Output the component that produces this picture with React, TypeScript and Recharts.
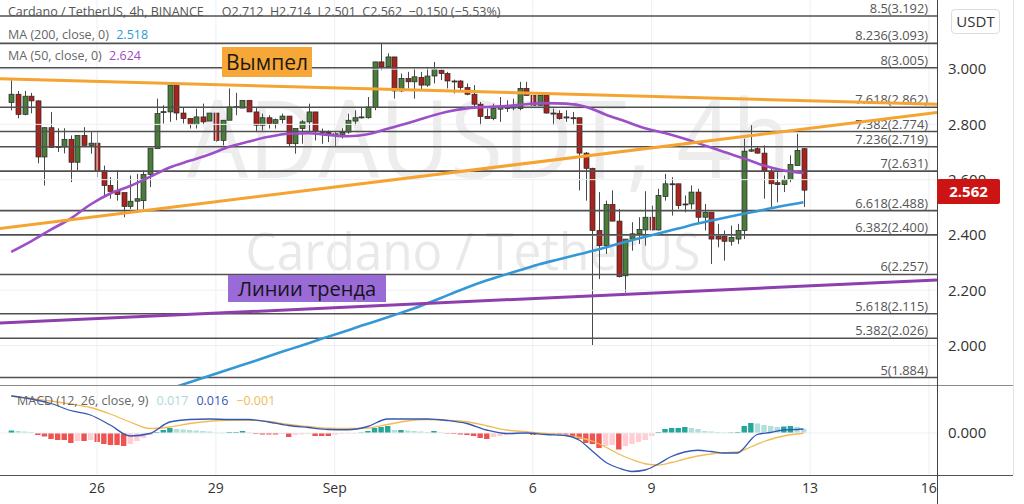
import React from 'react';
import { ComposedChart, Bar, Line, XAxis, YAxis, ReferenceLine } from 'recharts';

const FONT = '"Open Sans", "DejaVu Sans", sans-serif';

// 4h candles; index 0 = Aug 24 00:00, one unit = one candle
const FIRST_INDEX = -1;
const opens = [2.879, 2.909, 2.836, 2.902, 2.885, 2.682, 2.788, 2.720, 2.718, 2.746, 2.663, 2.760, 2.724, 2.732, 2.633, 2.579, 2.558, 2.553, 2.503, 2.522, 2.524, 2.619, 2.712, 2.844, 2.845, 2.942, 2.841, 2.821, 2.799, 2.827, 2.812, 2.841, 2.742, 2.815, 2.863, 2.859, 2.887, 2.845, 2.797, 2.824, 2.803, 2.817, 2.830, 2.730, 2.785, 2.809, 2.845, 2.775, 2.771, 2.766, 2.764, 2.772, 2.812, 2.824, 2.824, 2.861, 3.026, 3.008, 3.044, 2.921, 2.966, 2.954, 2.970, 2.942, 2.975, 2.996, 2.984, 2.957, 2.957, 2.933, 2.909, 2.873, 2.829, 2.821, 2.855, 2.869, 2.859, 2.857, 2.930, 2.905, 2.869, 2.905, 2.841, 2.839, 2.823, 2.824, 2.824, 2.696, 2.641, 2.416, 2.361, 2.510, 2.450, 2.252, 2.385, 2.404, 2.418, 2.464, 2.418, 2.539, 2.585, 2.585, 2.512, 2.512, 2.555, 2.464, 2.482, 2.394, 2.394, 2.377, 2.385, 2.416, 2.703, 2.712, 2.696, 2.631, 2.589, 2.582, 2.600, 2.651, 2.712];
const highs = [2.960, 2.921, 2.921, 2.914, 2.887, 2.789, 2.845, 2.786, 2.786, 2.760, 2.760, 2.790, 2.772, 2.772, 2.651, 2.609, 2.633, 2.553, 2.615, 2.621, 2.633, 2.714, 2.893, 2.869, 2.942, 2.942, 2.863, 2.821, 2.857, 2.875, 2.841, 2.841, 2.815, 2.930, 2.914, 2.887, 2.887, 2.863, 2.839, 2.833, 2.821, 2.839, 2.830, 2.785, 2.815, 2.875, 2.845, 2.785, 2.778, 2.772, 2.786, 2.839, 2.851, 2.863, 2.899, 3.026, 3.095, 3.057, 3.044, 2.984, 2.990, 3.002, 2.990, 3.008, 3.026, 2.999, 2.990, 2.962, 2.960, 2.948, 2.942, 2.881, 2.857, 2.875, 2.899, 2.887, 2.893, 2.954, 2.954, 2.905, 2.905, 2.905, 2.857, 2.851, 2.851, 2.845, 2.824, 2.700, 2.643, 2.555, 2.524, 2.561, 2.494, 2.385, 2.446, 2.464, 2.558, 2.506, 2.567, 2.621, 2.609, 2.585, 2.543, 2.579, 2.567, 2.512, 2.482, 2.440, 2.416, 2.434, 2.440, 2.748, 2.797, 2.720, 2.724, 2.639, 2.627, 2.615, 2.688, 2.766, 2.714];
const lows = [2.851, 2.822, 2.833, 2.840, 2.659, 2.579, 2.716, 2.700, 2.695, 2.591, 2.633, 2.724, 2.694, 2.609, 2.543, 2.531, 2.524, 2.464, 2.494, 2.488, 2.494, 2.573, 2.712, 2.803, 2.809, 2.815, 2.803, 2.785, 2.785, 2.797, 2.812, 2.736, 2.724, 2.815, 2.833, 2.859, 2.845, 2.772, 2.778, 2.785, 2.785, 2.803, 2.718, 2.694, 2.730, 2.772, 2.742, 2.730, 2.736, 2.718, 2.749, 2.766, 2.797, 2.821, 2.821, 2.851, 2.996, 3.002, 2.893, 2.917, 2.930, 2.893, 2.924, 2.936, 2.948, 2.960, 2.930, 2.912, 2.924, 2.905, 2.863, 2.797, 2.821, 2.815, 2.809, 2.845, 2.851, 2.851, 2.905, 2.869, 2.869, 2.839, 2.797, 2.817, 2.809, 2.797, 2.561, 2.524, 1.998, 2.240, 2.331, 2.449, 2.246, 2.192, 2.343, 2.367, 2.361, 2.416, 2.416, 2.524, 2.470, 2.494, 2.482, 2.494, 2.446, 2.416, 2.295, 2.355, 2.307, 2.361, 2.367, 2.385, 2.700, 2.694, 2.531, 2.500, 2.518, 2.555, 2.591, 2.651, 2.501];
const closes = [2.909, 2.836, 2.902, 2.885, 2.682, 2.788, 2.716, 2.718, 2.746, 2.663, 2.760, 2.724, 2.732, 2.630, 2.579, 2.557, 2.546, 2.503, 2.522, 2.531, 2.619, 2.714, 2.839, 2.846, 2.942, 2.841, 2.821, 2.799, 2.827, 2.809, 2.841, 2.742, 2.815, 2.863, 2.864, 2.887, 2.845, 2.797, 2.824, 2.803, 2.817, 2.830, 2.730, 2.785, 2.809, 2.845, 2.775, 2.771, 2.766, 2.764, 2.771, 2.815, 2.824, 2.827, 2.863, 3.026, 3.008, 3.044, 2.921, 2.966, 2.954, 2.972, 2.942, 2.975, 2.999, 2.984, 2.957, 2.955, 2.933, 2.909, 2.873, 2.829, 2.821, 2.857, 2.861, 2.857, 2.863, 2.930, 2.905, 2.869, 2.905, 2.841, 2.839, 2.821, 2.827, 2.821, 2.696, 2.641, 2.416, 2.361, 2.510, 2.450, 2.249, 2.385, 2.404, 2.420, 2.464, 2.418, 2.543, 2.585, 2.583, 2.506, 2.511, 2.555, 2.464, 2.482, 2.385, 2.385, 2.377, 2.391, 2.416, 2.703, 2.708, 2.696, 2.631, 2.585, 2.582, 2.600, 2.655, 2.706, 2.562];

const ma50Points: [number, number][] = [[-1, 2.339], [2, 2.377], [5, 2.419], [8, 2.459], [11, 2.510], [14, 2.550], [17, 2.577], [20, 2.610], [23, 2.644], [26, 2.668], [29, 2.691], [32, 2.719], [35, 2.738], [38, 2.755], [41, 2.766], [44, 2.768], [47, 2.762], [50, 2.757], [53, 2.764], [56, 2.784], [59, 2.804], [62, 2.826], [65, 2.846], [68, 2.858], [71, 2.863], [74, 2.866], [77, 2.873], [80, 2.877], [83, 2.875], [86, 2.864], [89, 2.836], [92, 2.811], [95, 2.786], [98, 2.769], [101, 2.748], [104, 2.724], [107, 2.700], [110, 2.677], [113, 2.651], [116, 2.633], [119, 2.624]];
const ma200Points: [number, number][] = [[22, 1.835], [25, 1.859], [28, 1.882], [31, 1.906], [34, 1.929], [37, 1.953], [40, 1.977], [43, 2.000], [46, 2.024], [49, 2.047], [52, 2.071], [55, 2.094], [58, 2.118], [61, 2.143], [64, 2.171], [67, 2.200], [70, 2.227], [73, 2.250], [76, 2.272], [79, 2.294], [82, 2.312], [85, 2.330], [88, 2.348], [91, 2.368], [94, 2.387], [97, 2.405], [100, 2.423], [103, 2.441], [106, 2.457], [109, 2.472], [112, 2.486], [115, 2.501], [118, 2.514], [119, 2.518]];

const macdPoints: [number, number][] = [[-1, 0.148], [2, 0.136], [5, 0.118], [8, 0.090], [11, 0.072], [14, 0.032], [17, -0.012], [20, -0.002], [23, 0.044], [26, 0.054], [29, 0.056], [32, 0.054], [35, 0.054], [38, 0.044], [41, 0.030], [44, 0.022], [47, 0.014], [50, 0.013], [53, 0.026], [56, 0.056], [59, 0.056], [62, 0.056], [65, 0.050], [68, 0.038], [71, 0.012], [74, -0.002], [77, 0.000], [80, -0.006], [83, -0.010], [85, -0.028], [87, -0.072], [89, -0.116], [91, -0.140], [93, -0.154], [95, -0.148], [97, -0.124], [99, -0.094], [101, -0.076], [103, -0.069], [105, -0.074], [107, -0.080], [109, -0.080], [110, -0.060], [111, -0.028], [112, -0.006], [114, 0.002], [116, 0.012], [118, 0.014], [119, 0.016]];
const signalPoints: [number, number][] = [[-1, 0.148], [2, 0.138], [5, 0.128], [8, 0.116], [11, 0.102], [14, 0.076], [17, 0.044], [20, 0.018], [23, 0.024], [26, 0.038], [29, 0.047], [32, 0.051], [35, 0.051], [38, 0.046], [41, 0.034], [44, 0.026], [47, 0.019], [50, 0.018], [53, 0.020], [56, 0.034], [59, 0.048], [62, 0.054], [65, 0.051], [68, 0.045], [71, 0.029], [74, 0.012], [77, 0.005], [80, -0.002], [83, -0.010], [85, -0.018], [87, -0.032], [89, -0.056], [91, -0.084], [93, -0.106], [95, -0.123], [97, -0.128], [99, -0.118], [101, -0.104], [103, -0.092], [105, -0.084], [107, -0.079], [109, -0.076], [111, -0.056], [113, -0.034], [115, -0.018], [117, -0.007], [119, -0.001]];
const histValues = [0.010, 0.008, 0.006, 0.004, -0.008, -0.014, -0.024, -0.028, -0.028, -0.040, -0.032, -0.032, -0.028, -0.036, -0.044, -0.048, -0.048, -0.052, -0.044, -0.032, -0.020, -0.008, 0.004, 0.012, 0.020, 0.016, 0.014, 0.012, 0.010, 0.008, 0.006, 0.002, 0.001, 0.004, 0.004, 0.008, 0.002, -0.004, -0.006, -0.006, -0.006, -0.004, -0.016, -0.008, -0.006, -0.004, -0.012, -0.012, -0.012, -0.008, -0.004, -0.002, -0.001, 0.002, 0.008, 0.020, 0.024, 0.028, 0.012, 0.012, 0.010, 0.008, 0.006, 0.004, 0.008, 0.002, -0.002, -0.004, -0.006, -0.008, -0.012, -0.020, -0.024, -0.016, -0.012, -0.008, -0.006, -0.004, -0.002, -0.008, -0.006, -0.006, -0.006, -0.006, -0.006, -0.012, -0.024, -0.040, -0.044, -0.060, -0.052, -0.048, -0.066, -0.052, -0.044, -0.036, -0.028, -0.012, 0.004, 0.016, 0.020, 0.020, 0.024, 0.020, 0.016, 0.008, 0.006, 0.004, 0.002, 0.002, 0.004, 0.028, 0.040, 0.038, 0.032, 0.028, 0.024, 0.026, 0.028, 0.024, 0.017];

const dayTicks = [12, 30, 48, 78, 96, 120, 138];
const dayLabels = ['26', '29', 'Sep', '6', '9', '13', '16'];
const priceTicks = [2.0, 2.2, 2.4, 2.6, 2.8, 3.0];
const fibRatios = ['8.5', '8.236', '8', '7.618', '7.382', '7.236', '7', '6.618', '6.382', '6', '5.618', '5.382', '5'];
const fibPrices = [3.192, 3.093, 3.005, 2.862, 2.774, 2.719, 2.631, 2.488, 2.400, 2.257, 2.115, 2.026, 1.884];
const pennantUpper: [number, number][] = [[-2.7, 2.965], [139.23, 2.873]];
const pennantLower: [number, number][] = [[-2.7, 2.423], [139.23, 2.843]];
const trendSupport: [number, number][] = [[-2.7, 2.081], [139.23, 2.237]];

const X_DOMAIN: [number, number] = [-2.7, 139.23];
const PRICE_DOMAIN: [number, number] = [1.857, 3.25];
const MACD_DOMAIN: [number, number] = [-0.168, 0.192];

const GREEN = '#4a7d3a';
const RED = '#a9231c';

const rows = opens.map((o, k) => {
  const i = FIRST_INDEX + k;
  const hv = histValues[k];
  const prev = k > 0 ? histValues[k - 1] : hv;
  const hc = hv >= 0 ? (hv >= prev ? '#26a69a' : '#b2dfdb') : (hv <= prev ? '#ef5350' : '#ffcdd2');
  return { i, o, h: highs[k], l: lows[k], c: closes[k], range: [lows[k], highs[k]], hist: hv, hc };
});

const toRows = (pts: [number, number][]) => pts.map(([i, v]) => ({ i, v }));
const ma50Rows = toRows(ma50Points);
const ma200Rows = toRows(ma200Points);
const macdRows = toRows(macdPoints);
const signalRows = toRows(signalPoints);

const CandleShape = (props: any) => {
  const { x, y, width, height, payload } = props;
  if (!payload) return null;
  const { o, h, l, c } = payload;
  const top = Math.min(y, y + height);
  const span = Math.abs(height);
  const k = span / Math.max(1e-9, h - l);
  const py = (v: number) => top + (h - v) * k;
  const cx = Math.round(x + width / 2) + 0.5;
  const up = c >= o;
  const bt = py(Math.max(o, c));
  const bb = py(Math.min(o, c));
  return (
    <g>
      <line x1={cx} x2={cx} y1={top} y2={top + span} stroke="#4a4a4a" strokeWidth={1} />
      <rect x={cx - 2.5} y={bt} width={5} height={Math.max(1, bb - bt)} fill={up ? GREEN : RED} stroke="#262626" strokeWidth={0.7} />
    </g>
  );
};

const HistShape = (props: any) => {
  const { x, y, width, height, payload } = props;
  if (!payload) return null;
  const top = Math.min(y, y + height);
  const hgt = Math.max(0.6, Math.abs(height));
  const cx = x + width / 2;
  return <rect x={cx - 2.7} y={top} width={5.4} height={hgt} fill={payload.hc} />;
};

const FibLabel = (props: any) => {
  const vb = props.viewBox || {};
  return (
    <text x={(vb.x || 0) + (vb.width || 0) - 9} y={(vb.y || 0) - 3} textAnchor="end" fontSize={12.8} fill="#555" fontFamily={FONT}>
      {props.text}
    </text>
  );
};

const seg = (pts: [number, number][]) => pts.map(([x, y]) => ({ x, y }));

export default function App() {
  return (
    <div style={{ position: 'absolute', left: 0, top: 0, width: 1024, height: 504, background: '#fff', overflow: 'hidden', fontFamily: FONT }}>
      {/* watermarks */}
      <svg width={937} height={385} style={{ position: 'absolute', left: 0, top: 0 }}>
        <text x={489} y={178} textAnchor="middle" fontSize={108} fill="#ededed" fontFamily={FONT} textLength={604} lengthAdjust="spacingAndGlyphs">ADAUSDT, 4h</text>
        <text x={473} y={270} textAnchor="middle" fontSize={51} fill="#e9e9e9" fontFamily={FONT} textLength={455} lengthAdjust="spacingAndGlyphs">Cardano / TetherUS</text>
      </svg>

      <div style={{ position: 'absolute', left: 0, top: 0 }}>
        <ComposedChart width={1024} height={385} data={rows} margin={{ top: 0, right: 0, bottom: 0, left: 0 }}>
          <XAxis type="number" dataKey="i" domain={X_DOMAIN} allowDataOverflow hide />
          <YAxis
            orientation="right"
            width={87}
            domain={PRICE_DOMAIN}
            allowDataOverflow
            ticks={priceTicks}
            tickFormatter={(v: number) => v.toFixed(3)}
            axisLine={false}
            tickLine={false}
            tickSize={0}
            tickMargin={11}
            tick={{ fontSize: 15, fill: '#333', fontFamily: FONT }}
          />
          {dayTicks.map((d) => (
            <ReferenceLine key={'vx' + d} x={d} stroke="#eceff4" strokeWidth={1} />
          ))}
          {priceTicks.map((p) => (
            <ReferenceLine key={'hy' + p} y={p} stroke="#eceff4" strokeWidth={1} />
          ))}
          {fibPrices.map((p, k) => (
            <ReferenceLine key={'fib' + k} y={p} stroke="#505050" strokeWidth={1.6} label={<FibLabel text={`${fibRatios[k]}(${p.toFixed(3)})`} />} />
          ))}
          <Bar dataKey="range" barSize={5} isAnimationActive={false} shape={<CandleShape />} />
          <Line data={ma200Rows} dataKey="v" type="monotone" dot={false} activeDot={false} stroke="#3598d6" strokeWidth={2.6} isAnimationActive={false} />
          <Line data={ma50Rows} dataKey="v" type="monotone" dot={false} activeDot={false} stroke="#9c4fc6" strokeWidth={2.6} isAnimationActive={false} />
          <ReferenceLine segment={seg(pennantUpper)} stroke="#f6a431" strokeWidth={3} ifOverflow="hidden" />
          <ReferenceLine segment={seg(pennantLower)} stroke="#f6a431" strokeWidth={3} ifOverflow="hidden" />
          <ReferenceLine segment={seg(trendSupport)} stroke="#8e3fae" strokeWidth={3} ifOverflow="hidden" />
        </ComposedChart>
      </div>

      <div style={{ position: 'absolute', left: 0, top: 385 }}>
        <ComposedChart width={1024} height={119} data={rows} margin={{ top: 0, right: 0, bottom: 0, left: 0 }}>
          <XAxis
            type="number"
            dataKey="i"
            domain={X_DOMAIN}
            allowDataOverflow
            ticks={dayTicks}
            tickFormatter={(v: number) => dayLabels[dayTicks.indexOf(v)] ?? ''}
            height={29}
            axisLine={false}
            tickLine={false}
            tickSize={0}
            tickMargin={8}
            interval={0}
            tick={{ fontSize: 14, fill: '#333', fontFamily: FONT }}
          />
          <YAxis
            orientation="right"
            width={87}
            domain={MACD_DOMAIN}
            allowDataOverflow
            ticks={[0]}
            tickFormatter={(v: number) => v.toFixed(3)}
            axisLine={false}
            tickLine={false}
            tickSize={0}
            tickMargin={11}
            tick={{ fontSize: 15, fill: '#333', fontFamily: FONT }}
          />
          {dayTicks.map((d) => (
            <ReferenceLine key={'mvx' + d} x={d} stroke="#eceff4" strokeWidth={1} />
          ))}
          <ReferenceLine y={0} stroke="#eceff4" strokeWidth={1} />
          <Bar dataKey="hist" barSize={5} isAnimationActive={false} shape={<HistShape />} />
          <Line data={signalRows} dataKey="v" type="monotone" dot={false} activeDot={false} stroke="#f2bb55" strokeWidth={1.3} isAnimationActive={false} />
          <Line data={macdRows} dataKey="v" type="monotone" dot={false} activeDot={false} stroke="#3658b5" strokeWidth={1.3} isAnimationActive={false} />
        </ComposedChart>
      </div>

      {/* frame lines */}
      <div style={{ position: 'absolute', left: 0, top: 385, width: 1013, height: 1, background: '#8a8a8a' }} />
      <div style={{ position: 'absolute', left: 0, top: 475, width: 1013, height: 1, background: '#555' }} />
      <div style={{ position: 'absolute', left: 937, top: 0, width: 1, height: 504, background: '#444' }} />
      <div style={{ position: 'absolute', left: 1013, top: 0, width: 1, height: 475, background: '#e2e2e2' }} />

      {/* legends */}
      <div style={{ position: 'absolute', left: 8, top: 3, fontSize: 12.5, color: '#555', whiteSpace: 'nowrap' }}>
        <span>Cardano / TetherUS, 4h, BINANCE</span>
        <span style={{ marginLeft: 18 }}>O2.712 &nbsp;H2.714 &nbsp;L2.501 &nbsp;C2.562 &nbsp;−0.150 (−5.53%)</span>
      </div>
      <div style={{ position: 'absolute', left: 8, top: 26, fontSize: 12.5, color: '#666', whiteSpace: 'nowrap' }}>
        MA (200, close, 0) <span style={{ color: '#2e9ad6', marginLeft: 4 }}>2.518</span>
      </div>
      <div style={{ position: 'absolute', left: 8, top: 47, fontSize: 12.5, color: '#666', whiteSpace: 'nowrap' }}>
        MA (50, close, 0) <span style={{ color: '#a04bc4', marginLeft: 4 }}>2.624</span>
      </div>
      <div style={{ position: 'absolute', left: 17, top: 392, fontSize: 12.5, color: '#666', whiteSpace: 'nowrap' }}>
        MACD (12, 26, close, 9)
        <span style={{ color: '#a9dbd6', marginLeft: 8 }}>0.017</span>
        <span style={{ color: '#3658b5', marginLeft: 8 }}>0.016</span>
        <span style={{ color: '#f2bb55', marginLeft: 8 }}>−0.001</span>
      </div>

      {/* annotation boxes */}
      <div style={{ position: 'absolute', left: 222, top: 47, width: 90, height: 30, background: '#f7a737', color: '#1e1a14', fontSize: 21, lineHeight: '30px', textAlign: 'center' }}>Вымпел</div>
      <div style={{ position: 'absolute', left: 228, top: 275, width: 158, height: 27, background: '#9a6ad6', color: '#161320', fontSize: 20, lineHeight: '27px', textAlign: 'center' }}>Линии тренда</div>

      {/* right scale decorations */}
      <div style={{ position: 'absolute', left: 951, top: 9, width: 47, height: 23, border: '1px solid #dcdcdc', borderRadius: 4, fontSize: 15, color: '#333', lineHeight: '23px', textAlign: 'center', background: '#fff' }}>USDT</div>
      <div style={{ position: 'absolute', left: 937, top: 179, width: 63, height: 25, background: '#cc1414', borderRadius: 2, color: '#fff', fontWeight: 700, fontSize: 15, lineHeight: '25px', textAlign: 'center' }}>2.562</div>
    </div>
  );
}
